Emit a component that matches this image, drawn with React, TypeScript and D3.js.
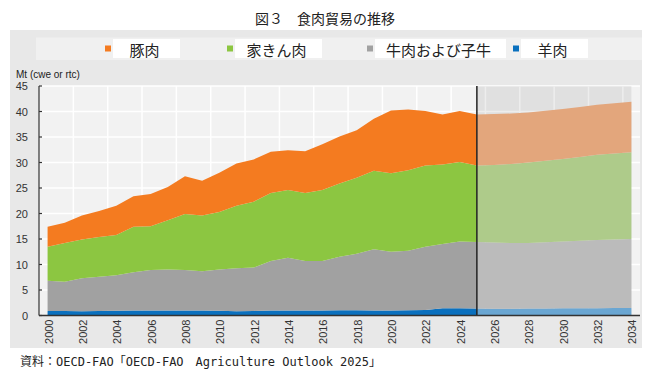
import React from 'react';
import * as d3 from 'd3';

const years = [2000, 2001, 2002, 2003, 2004, 2005, 2006, 2007, 2008, 2009, 2010, 2011, 2012, 2013, 2014, 2015, 2016, 2017, 2018, 2019, 2020, 2021, 2022, 2023, 2024, 2025, 2026, 2027, 2028, 2029, 2030, 2031, 2032, 2033, 2034];
// 羊肉 (sheep)
const sheep = [0.9, 0.9, 0.85, 0.9, 0.95, 1.0, 1.0, 1.0, 1.0, 1.0, 0.95, 0.85, 0.9, 1.0, 1.0, 1.0, 1.0, 1.05, 1.05, 1.0, 1.0, 1.05, 1.1, 1.4, 1.4, 1.35, 1.3, 1.3, 1.35, 1.35, 1.4, 1.4, 1.4, 1.45, 1.45];
// 牛肉および子牛 (beef & veal)
const beef = [5.9, 5.7, 6.45, 6.7, 6.95, 7.5, 7.9, 8.0, 7.9, 7.7, 8.05, 8.4, 8.5, 9.7, 10.3, 9.7, 9.7, 10.45, 11.05, 12.0, 11.5, 11.65, 12.4, 12.6, 13.1, 13.05, 13.0, 12.9, 12.85, 13.0, 13.1, 13.25, 13.4, 13.45, 13.55];
// 家きん肉 (poultry)
const poultry = [6.7, 7.6, 7.6, 7.8, 7.9, 8.9, 8.6, 9.7, 11.0, 10.9, 11.3, 12.25, 12.9, 13.3, 13.3, 13.3, 13.9, 14.4, 14.9, 15.4, 15.4, 15.8, 15.9, 15.6, 15.6, 15.0, 15.2, 15.5, 15.8, 16.0, 16.2, 16.45, 16.7, 16.85, 17.0];
// 豚肉 (pork)
const pork = [3.9, 4.0, 4.7, 5.1, 5.7, 6.0, 6.3, 6.5, 7.4, 6.8, 7.7, 8.3, 8.3, 8.1, 7.8, 8.2, 9.0, 9.2, 9.3, 10.2, 12.3, 11.9, 10.7, 9.8, 10.0, 10.0, 10.0, 9.9, 9.8, 9.8, 9.8, 9.8, 9.8, 9.85, 9.9];

const yTicks = [0, 5, 10, 15, 20, 25, 30, 35, 40, 45];
const xTickYears = [2000, 2002, 2004, 2006, 2008, 2010, 2012, 2014, 2016, 2018, 2020, 2022, 2024, 2026, 2028, 2030, 2032, 2034];
const projectionStart = 2025;

const seriesKeys = ['sheep', 'beef', 'poultry', 'pork'];
const legendLabels = ['豚肉', '家きん肉', '牛肉および子牛', '羊肉'];
const legendKeys = ['pork', 'poultry', 'beef', 'sheep'];

const histColors: Record<string, string> = {
  pork: '#f47b20',
  poultry: '#8cc641',
  beef: '#a1a1a1',
  sheep: '#0a70be',
};
const projColors: Record<string, string> = {
  pork: '#e3a67c',
  poultry: '#aecb8a',
  beef: '#bbbbbb',
  sheep: '#6aa6d2',
};

const title = '図３　食肉貿易の推移';
const unitLabel = 'Mt (cwe or rtc)';
const source = '資料：OECD-FAO「OECD-FAO　Agriculture Outlook 2025」';

export default function App() {
  const W = 650;
  const H = 378;
  const left = 39;
  const right = 640;
  const top = 86;
  const bottom = 315.5;

  const x = d3.scaleLinear().domain([1999.5, 2034.5]).range([left, right]);
  const y = d3.scaleLinear().domain([0, 45]).range([bottom, top]);

  const rows = years.map((yr, i) => ({
    year: yr,
    sheep: sheep[i],
    beef: beef[i],
    poultry: poultry[i],
    pork: pork[i],
  }));
  const stacked = d3.stack<any>().keys(seriesKeys)(rows);
  const area = d3
    .area<any>()
    .x((d) => x(d.data.year))
    .y0((d) => y(d[0]))
    .y1((d) => y(d[1]));

  const gridXs = years.filter((yr) => (yr - 2000) % 2 === 0 && yr > 2000).map((yr) => x(yr - 0.5));

  const legendBoxes = [
    { x0: 113, x1: 180 },
    { x0: 235, x1: 322 },
    { x0: 375, x1: 506 },
    { x0: 521, x1: 588 },
  ];

  const sansJP = '"Noto Sans CJK JP", "Noto Sans", sans-serif';
  const arial = '"Liberation Sans", Arial, sans-serif';

  return (
    <svg width={W} height={H} style={{ position: 'absolute', left: 0, top: 0, background: '#fff' }}>
      <rect x={0} y={0} width={W} height={H} fill="#fff" />
      <text x={325} y={18} textAnchor="middle" dominantBaseline="central" fontFamily={sansJP} fontSize={14} fill="#222">
        {title}
      </text>

      {/* panel */}
      <rect x={10} y={30} width={632} height={318} fill="#e8e8e8" />
      {/* legend band */}
      <rect x={36} y={37.5} width={606} height={22.5} fill="#f0f0f0" />
      {legendKeys.map((k, i) => {
        const b = legendBoxes[i];
        return (
          <g key={k}>
            <rect x={b.x0 - 8} y={45.5} width={6} height={6} fill={histColors[k]} />
            <rect x={b.x0} y={39} width={b.x1 - b.x0} height={19} fill="#fff" />
            <text
              x={(b.x0 + b.x1) / 2 - 2}
              y={49}
              textAnchor="middle"
              dominantBaseline="central"
              fontFamily={sansJP}
              fontSize={15}
              fill="#222"
            >
              {legendLabels[i]}
            </text>
          </g>
        );
      })}

      <text x={16} y={78} fontFamily={arial} fontSize={10} fill="#222">
        {unitLabel}
      </text>

      {/* plot background */}
      <rect x={left} y={top} width={right - left} height={bottom - top} fill="#f2f2f2" />
      {yTicks.slice(1).map((t) => (
        <line key={'hg' + t} x1={left} x2={right} y1={y(t)} y2={y(t)} stroke="#fff" strokeWidth={1.5} />
      ))}
      {gridXs.map((gx, i) => (
        <line key={'vg' + i} x1={gx} x2={gx} y1={top} y2={bottom} stroke="#fff" strokeWidth={1.5} />
      ))}

      {/* projection shading */}
      <rect
        x={x(projectionStart)}
        y={top}
        width={x(2034) - x(projectionStart)}
        height={bottom - top}
        fill="#000"
        fillOpacity={0.07}
      />

      {/* areas */}
      {stacked.map((s) => {
        const hist = s.filter((d: any) => d.data.year <= projectionStart);
        const proj = s.filter((d: any) => d.data.year >= projectionStart);
        return (
          <g key={s.key}>
            <path d={area(hist) || ''} fill={histColors[s.key]} />
            <path d={area(proj) || ''} fill={projColors[s.key]} />
          </g>
        );
      })}

      {/* projection divider */}
      <line x1={x(projectionStart)} x2={x(projectionStart)} y1={top} y2={bottom} stroke="#222" strokeWidth={1.5} />

      {/* axes */}
      <line x1={left} x2={left} y1={top} y2={bottom} stroke="#333" strokeWidth={1.2} />
      {yTicks.map((t) => (
        <g key={'yt' + t}>
          <line x1={left} x2={left + 3} y1={y(t)} y2={y(t)} stroke="#333" strokeWidth={1.2} />
          <text x={28} y={y(t)} textAnchor="end" dominantBaseline="central" fontFamily={arial} fontSize={11} fill="#333">
            {t}
          </text>
        </g>
      ))}
      <line x1={left} x2={right} y1={bottom} y2={bottom} stroke="#333" strokeWidth={1.5} />
      {xTickYears.map((yr) => (
        <text
          key={'xt' + yr}
          transform={`translate(${x(yr) + 1},${bottom + 4}) rotate(-90)`}
          textAnchor="end"
          dominantBaseline="central"
          fontFamily={arial}
          fontSize={11}
          fill="#333"
        >
          {yr}
        </text>
      ))}

      <text x={20} y={366} fontFamily={'"DejaVu Sans Mono", "Noto Sans CJK JP", monospace'} fontSize={12} fill="#222">
        {source}
      </text>
    </svg>
  );
}
